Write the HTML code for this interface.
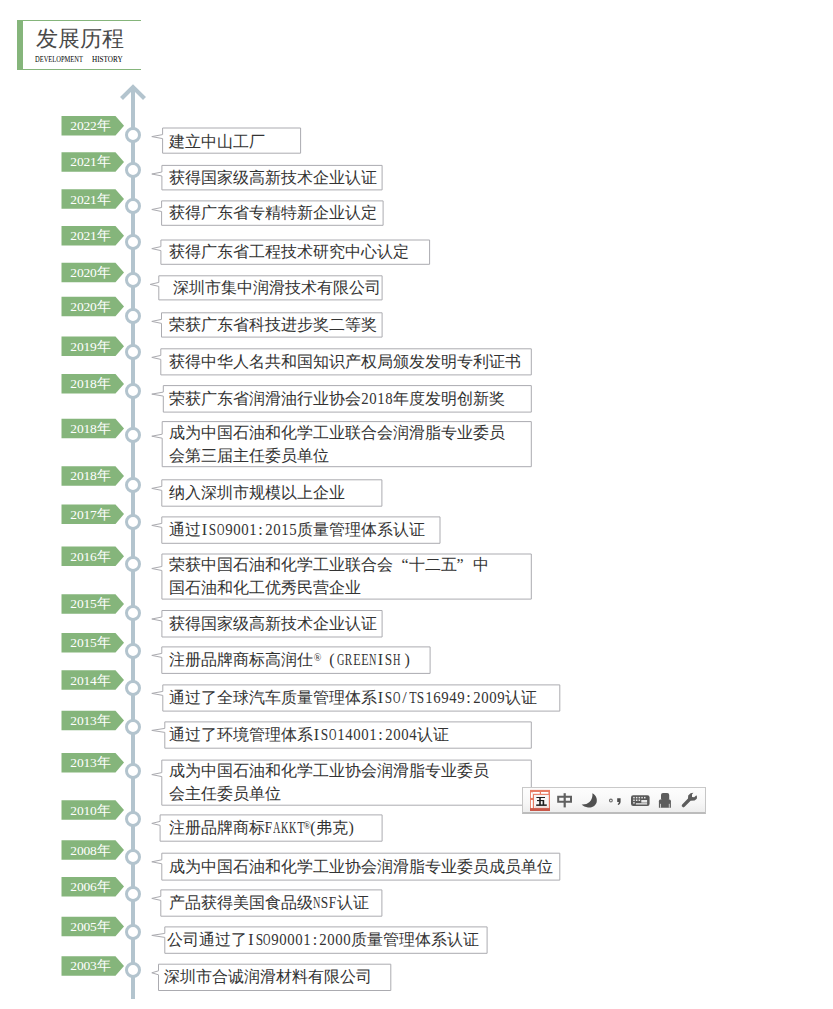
<!DOCTYPE html>
<html><head><meta charset="utf-8"><style>
html,body{margin:0;padding:0;background:#fff;}
body{width:833px;height:1009px;position:relative;overflow:hidden;font-family:"Liberation Serif",serif;}
.abs{position:absolute;}
.hdr{position:absolute;left:16.7px;top:20px;width:124px;height:49.7px;box-sizing:border-box;border-left:6.4px solid #85B57B;border-top:1.5px solid #85B57B;border-bottom:1.5px solid #85B57B;}
.t1{position:absolute;left:36px;top:23.5px;font-size:21.5px;line-height:30px;color:#4a4a4a;white-space:nowrap;}
.t2{position:absolute;font-family:"Liberation Serif",serif;font-size:9px;line-height:10px;color:#000;white-space:pre;transform-origin:0 0;}
.vline{position:absolute;left:131px;top:88px;width:4px;height:911px;background:#B3C4CE;}
.node{position:absolute;width:16px;height:16px;box-sizing:border-box;border:3px solid #B3C4CE;border-radius:50%;background:#fff;}
.lab{position:absolute;left:61.5px;width:62.5px;height:19.5px;}
.lab span{position:absolute;left:8.8px;top:0.3px;font-size:13.5px;letter-spacing:-0.15px;line-height:19.5px;color:#fff;white-space:nowrap;}
.tx{position:absolute;font-size:16px;line-height:22.7px;color:#333;white-space:nowrap;}
.tx i{font-style:normal;display:inline-flex;justify-content:center;vertical-align:baseline;}
.tx i b{font-weight:normal;flex:none;display:inline-block;}
.tx i.q{width:16px;}
.tx i.reg b{font-size:10px;position:relative;top:-4px;}
</style></head><body>

<div class="hdr"></div><div class="t1">发展历程</div>
<div class="t2" style="left:34.8px;top:54px;transform:scaleX(0.72)">DEVELOPMENT</div>
<div class="t2" style="left:91.8px;top:54px;transform:scaleX(0.80)">HISTORY</div>
<div class="vline"></div>
<svg class="abs" style="left:0;top:0" width="833" height="1009"><polyline points="121.5,98.6 133,87.1 144.5,98.6" fill="none" stroke="#B3C4CE" stroke-width="4.2" stroke-linecap="butt" stroke-linejoin="miter"/><path d="M162.6,128.0 H300.6 V153.2 H162.6 V138.6 L151.8,136.6 L162.6,134.6 Z" fill="#fff" stroke="#ABABB0" stroke-width="1" stroke-linejoin="round"/><path d="M61.5,116.0 H115.5 L124,125.8 L115.5,135.5 H61.5 Z" fill="#85B57B"/><path d="M161.9,165.4 H382.1 V189.9 H161.9 V176.0 L151.8,174.0 L161.9,172.0 Z" fill="#fff" stroke="#ABABB0" stroke-width="1" stroke-linejoin="round"/><path d="M61.5,152.2 H115.5 L124,161.9 L115.5,171.7 H61.5 Z" fill="#85B57B"/><path d="M161.6,200.9 H383.1 V225.3 H161.6 V211.5 L151.8,209.5 L161.6,207.5 Z" fill="#fff" stroke="#ABABB0" stroke-width="1" stroke-linejoin="round"/><path d="M61.5,189.3 H115.5 L124,199.1 L115.5,208.8 H61.5 Z" fill="#85B57B"/><path d="M160.9,240.0 H429.6 V264.3 H160.9 V250.6 L151.8,248.6 L160.9,246.6 Z" fill="#fff" stroke="#ABABB0" stroke-width="1" stroke-linejoin="round"/><path d="M61.5,226.0 H115.5 L124,235.8 L115.5,245.5 H61.5 Z" fill="#85B57B"/><path d="M158.8,275.8 H382.1 V299.9 H158.8 V286.4 L150.2,284.4 L158.8,282.4 Z" fill="#fff" stroke="#ABABB0" stroke-width="1" stroke-linejoin="round"/><path d="M61.5,262.7 H115.5 L124,272.4 L115.5,282.2 H61.5 Z" fill="#85B57B"/><path d="M161.5,312.8 H382.1 V337.1 H161.5 V323.4 L151.8,321.4 L161.5,319.4 Z" fill="#fff" stroke="#ABABB0" stroke-width="1" stroke-linejoin="round"/><path d="M61.5,296.8 H115.5 L124,306.6 L115.5,316.3 H61.5 Z" fill="#85B57B"/><path d="M160.8,348.8 H531.3 V374.9 H160.8 V359.4 L151.8,357.4 L160.8,355.4 Z" fill="#fff" stroke="#ABABB0" stroke-width="1" stroke-linejoin="round"/><path d="M61.5,336.5 H115.5 L124,346.2 L115.5,356.0 H61.5 Z" fill="#85B57B"/><path d="M163.3,385.6 H531.3 V412.1 H163.3 V396.1 L151.8,394.1 L163.3,392.1 Z" fill="#fff" stroke="#ABABB0" stroke-width="1" stroke-linejoin="round"/><path d="M61.5,374.1 H115.5 L124,383.9 L115.5,393.6 H61.5 Z" fill="#85B57B"/><path d="M162.2,421.6 H531.3 V466.7 H162.2 V438.2 L151.8,436.2 L162.2,434.2 Z" fill="#fff" stroke="#ABABB0" stroke-width="1" stroke-linejoin="round"/><path d="M61.5,418.8 H115.5 L124,428.6 L115.5,438.3 H61.5 Z" fill="#85B57B"/><path d="M161.8,479.8 H381.9 V506.2 H161.8 V490.4 L151.8,488.4 L161.8,486.4 Z" fill="#fff" stroke="#ABABB0" stroke-width="1" stroke-linejoin="round"/><path d="M61.5,466.2 H115.5 L124,475.9 L115.5,485.7 H61.5 Z" fill="#85B57B"/><path d="M161.8,516.9 H440.0 V543.3 H161.8 V527.4 L151.8,525.4 L161.8,523.4 Z" fill="#fff" stroke="#ABABB0" stroke-width="1" stroke-linejoin="round"/><path d="M61.5,504.4 H115.5 L124,514.1 L115.5,523.9 H61.5 Z" fill="#85B57B"/><path d="M161.9,554.0 H531.3 V599.1 H161.9 V570.5 L151.8,568.5 L161.9,566.5 Z" fill="#fff" stroke="#ABABB0" stroke-width="1" stroke-linejoin="round"/><path d="M61.5,546.5 H115.5 L124,556.2 L115.5,566.0 H61.5 Z" fill="#85B57B"/><path d="M161.9,610.5 H382.1 V637.0 H161.9 V621.0 L151.8,619.0 L161.9,617.0 Z" fill="#fff" stroke="#ABABB0" stroke-width="1" stroke-linejoin="round"/><path d="M61.5,594.2 H115.5 L124,604.0 L115.5,613.7 H61.5 Z" fill="#85B57B"/><path d="M161.8,646.9 H430.1 V673.4 H161.8 V657.4 L151.8,655.4 L161.8,653.4 Z" fill="#fff" stroke="#ABABB0" stroke-width="1" stroke-linejoin="round"/><path d="M61.5,633.0 H115.5 L124,642.8 L115.5,652.5 H61.5 Z" fill="#85B57B"/><path d="M162.8,684.9 H559.8 V711.1 H162.8 V695.4 L151.8,693.4 L162.8,691.4 Z" fill="#fff" stroke="#ABABB0" stroke-width="1" stroke-linejoin="round"/><path d="M61.5,670.3 H115.5 L124,680.0 L115.5,689.8 H61.5 Z" fill="#85B57B"/><path d="M164.8,721.9 H531.3 V748.2 H164.8 V732.4 L151.8,730.4 L164.8,728.4 Z" fill="#fff" stroke="#ABABB0" stroke-width="1" stroke-linejoin="round"/><path d="M61.5,710.7 H115.5 L124,720.5 L115.5,730.2 H61.5 Z" fill="#85B57B"/><path d="M161.8,760.1 H531.3 V805.2 H161.8 V776.6 L151.8,774.6 L161.8,772.6 Z" fill="#fff" stroke="#ABABB0" stroke-width="1" stroke-linejoin="round"/><path d="M61.5,752.9 H115.5 L124,762.6 L115.5,772.4 H61.5 Z" fill="#85B57B"/><path d="M160.1,814.9 H382.1 V841.2 H160.1 V825.4 L151.8,823.4 L160.1,821.4 Z" fill="#fff" stroke="#ABABB0" stroke-width="1" stroke-linejoin="round"/><path d="M61.5,800.3 H115.5 L124,810.0 L115.5,819.8 H61.5 Z" fill="#85B57B"/><path d="M161.8,853.2 H559.8 V880.1 H161.8 V863.8 L151.8,861.8 L161.8,859.8 Z" fill="#fff" stroke="#ABABB0" stroke-width="1" stroke-linejoin="round"/><path d="M61.5,840.3 H115.5 L124,850.0 L115.5,859.8 H61.5 Z" fill="#85B57B"/><path d="M160.8,889.9 H381.9 V916.2 H160.8 V900.4 L151.8,898.4 L160.8,896.4 Z" fill="#fff" stroke="#ABABB0" stroke-width="1" stroke-linejoin="round"/><path d="M61.5,876.9 H115.5 L124,886.6 L115.5,896.4 H61.5 Z" fill="#85B57B"/><path d="M164.8,926.9 H487.1 V953.3 H164.8 V937.4 L151.8,935.4 L164.8,933.4 Z" fill="#fff" stroke="#ABABB0" stroke-width="1" stroke-linejoin="round"/><path d="M61.5,916.8 H115.5 L124,926.5 L115.5,936.3 H61.5 Z" fill="#85B57B"/><path d="M158.5,964.2 H390.8 V990.5 H158.5 V974.8 L151.8,972.8 L158.5,970.8 Z" fill="#fff" stroke="#ABABB0" stroke-width="1" stroke-linejoin="round"/><path d="M61.5,956.2 H115.5 L124,966.0 L115.5,975.7 H61.5 Z" fill="#85B57B"/></svg>
<div class="node" style="left:124.8px;top:127.0px"></div>
<div class="lab" style="top:116.0px"><span>2022年</span></div>
<div class="tx" style="left:168.5px;top:130.7px">建立中山工厂</div>
<div class="node" style="left:124.8px;top:161.8px"></div>
<div class="lab" style="top:152.2px"><span>2021年</span></div>
<div class="tx" style="left:168.5px;top:166.8px">获得国家级高新技术企业认证</div>
<div class="node" style="left:124.8px;top:198.3px"></div>
<div class="lab" style="top:189.3px"><span>2021年</span></div>
<div class="tx" style="left:168.5px;top:202.2px">获得广东省专精特新企业认定</div>
<div class="node" style="left:124.8px;top:234.0px"></div>
<div class="lab" style="top:226.0px"><span>2021年</span></div>
<div class="tx" style="left:168.5px;top:241.3px">获得广东省工程技术研究中心认定</div>
<div class="node" style="left:124.8px;top:272.0px"></div>
<div class="lab" style="top:262.7px"><span>2020年</span></div>
<div class="tx" style="left:172.5px;top:276.9px">深圳市集中润滑技术有限公司</div>
<div class="node" style="left:124.8px;top:307.6px"></div>
<div class="lab" style="top:296.8px"><span>2020年</span></div>
<div class="tx" style="left:168.5px;top:314.0px">荣获广东省科技进步奖二等奖</div>
<div class="node" style="left:124.8px;top:344.3px"></div>
<div class="lab" style="top:336.5px"><span>2019年</span></div>
<div class="tx" style="left:168.5px;top:350.9px">获得中华人名共和国知识产权局颁发发明专利证书</div>
<div class="node" style="left:124.8px;top:382.5px"></div>
<div class="lab" style="top:374.1px"><span>2018年</span></div>
<div class="tx" style="left:168.5px;top:387.9px">荣获广东省润滑油行业协会<i class="h" style="width:8.0px"><b style="transform:scaleX(0.925)">2</b></i><i class="h" style="width:8.0px"><b style="transform:scaleX(0.925)">0</b></i><i class="h" style="width:8.0px"><b style="transform:scaleX(0.925)">1</b></i><i class="h" style="width:8.0px"><b style="transform:scaleX(0.925)">8</b></i>年度发明创新奖</div>
<div class="node" style="left:124.8px;top:426.6px"></div>
<div class="lab" style="top:418.8px"><span>2018年</span></div>
<div class="tx" style="left:168.5px;top:421.9px">成为中国石油和化学工业联合会润滑脂专业委员<br>会第三届主任委员单位</div>
<div class="node" style="left:124.8px;top:476.8px"></div>
<div class="lab" style="top:466.2px"><span>2018年</span></div>
<div class="tx" style="left:168.5px;top:482.1px">纳入深圳市规模以上企业</div>
<div class="node" style="left:124.8px;top:513.7px"></div>
<div class="lab" style="top:504.4px"><span>2017年</span></div>
<div class="tx" style="left:168.5px;top:519.1px">通过<i class="h" style="width:8.0px"><b>I</b></i><i class="h" style="width:8.0px"><b style="transform:scaleX(0.832)">S</b></i><i class="h" style="width:8.0px"><b style="transform:scaleX(0.641)">O</b></i><i class="h" style="width:8.0px"><b style="transform:scaleX(0.925)">9</b></i><i class="h" style="width:8.0px"><b style="transform:scaleX(0.925)">0</b></i><i class="h" style="width:8.0px"><b style="transform:scaleX(0.925)">0</b></i><i class="h" style="width:8.0px"><b style="transform:scaleX(0.925)">1</b></i><i class="h" style="width:8.0px"><b>:</b></i><i class="h" style="width:8.0px"><b style="transform:scaleX(0.925)">2</b></i><i class="h" style="width:8.0px"><b style="transform:scaleX(0.925)">0</b></i><i class="h" style="width:8.0px"><b style="transform:scaleX(0.925)">1</b></i><i class="h" style="width:8.0px"><b style="transform:scaleX(0.925)">5</b></i>质量管理体系认证</div>
<div class="node" style="left:124.8px;top:556.0px"></div>
<div class="lab" style="top:546.5px"><span>2016年</span></div>
<div class="tx" style="left:168.5px;top:554.2px">荣获中国石油和化学工业联合会<i class="q" style="justify-content:flex-end"><b>“</b></i>十二五<i class="q" style="justify-content:flex-start"><b>”</b></i>中<br>国石油和化工优秀民营企业</div>
<div class="node" style="left:124.8px;top:604.8px"></div>
<div class="lab" style="top:594.2px"><span>2015年</span></div>
<div class="tx" style="left:168.5px;top:612.8px">获得国家级高新技术企业认证</div>
<div class="node" style="left:124.8px;top:643.0px"></div>
<div class="lab" style="top:633.0px"><span>2015年</span></div>
<div class="tx" style="left:168.5px;top:649.2px">注册品牌商标高润仕<i class="h reg" style="width:8px;padding-left:2px;box-sizing:border-box"><b>®</b></i><i class="q" style="justify-content:flex-end;padding-right:2px;box-sizing:border-box"><b>(</b></i><i class="h" style="width:8.0px"><b style="transform:scaleX(0.641)">G</b></i><i class="h" style="width:8.0px"><b style="transform:scaleX(0.693)">R</b></i><i class="h" style="width:8.0px"><b style="transform:scaleX(0.757)">E</b></i><i class="h" style="width:8.0px"><b style="transform:scaleX(0.757)">E</b></i><i class="h" style="width:8.0px"><b style="transform:scaleX(0.641)">N</b></i><i class="h" style="width:8.0px"><b>I</b></i><i class="h" style="width:8.0px"><b style="transform:scaleX(0.832)">S</b></i><i class="h" style="width:8.0px"><b style="transform:scaleX(0.641)">H</b></i><i class="q" style="justify-content:flex-start;padding-left:4px;box-sizing:border-box"><b>)</b></i></div>
<div class="node" style="left:124.8px;top:679.7px"></div>
<div class="lab" style="top:670.3px"><span>2014年</span></div>
<div class="tx" style="left:168.5px;top:687.0px">通过了全球汽车质量管理体系<i class="h" style="width:8.0px"><b>I</b></i><i class="h" style="width:8.0px"><b style="transform:scaleX(0.832)">S</b></i><i class="h" style="width:8.0px"><b style="transform:scaleX(0.641)">O</b></i><i class="h" style="width:8.0px"><b>/</b></i><i class="h" style="width:8.0px"><b style="transform:scaleX(0.757)">T</b></i><i class="h" style="width:8.0px"><b style="transform:scaleX(0.832)">S</b></i><i class="h" style="width:8.0px"><b style="transform:scaleX(0.925)">1</b></i><i class="h" style="width:8.0px"><b style="transform:scaleX(0.925)">6</b></i><i class="h" style="width:8.0px"><b style="transform:scaleX(0.925)">9</b></i><i class="h" style="width:8.0px"><b style="transform:scaleX(0.925)">4</b></i><i class="h" style="width:8.0px"><b style="transform:scaleX(0.925)">9</b></i><i class="h" style="width:8.0px"><b>:</b></i><i class="h" style="width:8.0px"><b style="transform:scaleX(0.925)">2</b></i><i class="h" style="width:8.0px"><b style="transform:scaleX(0.925)">0</b></i><i class="h" style="width:8.0px"><b style="transform:scaleX(0.925)">0</b></i><i class="h" style="width:8.0px"><b style="transform:scaleX(0.925)">9</b></i>认证</div>
<div class="node" style="left:124.8px;top:719.3px"></div>
<div class="lab" style="top:710.7px"><span>2013年</span></div>
<div class="tx" style="left:168.5px;top:724.1px">通过了环境管理体系<i class="h" style="width:8.0px"><b>I</b></i><i class="h" style="width:8.0px"><b style="transform:scaleX(0.832)">S</b></i><i class="h" style="width:8.0px"><b style="transform:scaleX(0.641)">O</b></i><i class="h" style="width:8.0px"><b style="transform:scaleX(0.925)">1</b></i><i class="h" style="width:8.0px"><b style="transform:scaleX(0.925)">4</b></i><i class="h" style="width:8.0px"><b style="transform:scaleX(0.925)">0</b></i><i class="h" style="width:8.0px"><b style="transform:scaleX(0.925)">0</b></i><i class="h" style="width:8.0px"><b style="transform:scaleX(0.925)">1</b></i><i class="h" style="width:8.0px"><b>:</b></i><i class="h" style="width:8.0px"><b style="transform:scaleX(0.925)">2</b></i><i class="h" style="width:8.0px"><b style="transform:scaleX(0.925)">0</b></i><i class="h" style="width:8.0px"><b style="transform:scaleX(0.925)">0</b></i><i class="h" style="width:8.0px"><b style="transform:scaleX(0.925)">4</b></i>认证</div>
<div class="node" style="left:124.8px;top:762.5px"></div>
<div class="lab" style="top:752.9px"><span>2013年</span></div>
<div class="tx" style="left:168.5px;top:760.3px">成为中国石油和化学工业协会润滑脂专业委员<br>会主任委员单位</div>
<div class="node" style="left:124.8px;top:811.0px"></div>
<div class="lab" style="top:800.3px"><span>2010年</span></div>
<div class="tx" style="left:168.5px;top:817.1px">注册品牌商标<i class="h" style="width:8.0px"><b style="transform:scaleX(0.832)">F</b></i><i class="h" style="width:8.0px"><b style="transform:scaleX(0.641)">A</b></i><i class="h" style="width:8.0px"><b style="transform:scaleX(0.641)">K</b></i><i class="h" style="width:8.0px"><b style="transform:scaleX(0.641)">K</b></i><i class="h" style="width:8.0px"><b style="transform:scaleX(0.757)">T</b></i><i class="h reg" style="width:5px"><b>®</b></i><i class="h" style="width:6px;justify-content:flex-end"><b>(</b></i>弗克<i class="h" style="width:6px;justify-content:flex-start;padding-left:1px"><b>)</b></i></div>
<div class="node" style="left:124.8px;top:848.9px"></div>
<div class="lab" style="top:840.3px"><span>2008年</span></div>
<div class="tx" style="left:168.5px;top:855.7px">成为中国石油和化学工业协会润滑脂专业委员成员单位</div>
<div class="node" style="left:124.8px;top:885.8px"></div>
<div class="lab" style="top:876.9px"><span>2006年</span></div>
<div class="tx" style="left:168.5px;top:892.1px">产品获得美国食品级<i class="h" style="width:8.0px"><b style="transform:scaleX(0.641)">N</b></i><i class="h" style="width:8.0px"><b style="transform:scaleX(0.832)">S</b></i><i class="h" style="width:8.0px"><b style="transform:scaleX(0.832)">F</b></i>认证</div>
<div class="node" style="left:124.8px;top:924.0px"></div>
<div class="lab" style="top:916.8px"><span>2005年</span></div>
<div class="tx" style="left:167.0px;top:929.1px">公司通过了<i class="h" style="width:8.0px"><b>I</b></i><i class="h" style="width:8.0px"><b style="transform:scaleX(0.832)">S</b></i><i class="h" style="width:8.0px"><b style="transform:scaleX(0.641)">O</b></i><i class="h" style="width:8.0px"><b style="transform:scaleX(0.925)">9</b></i><i class="h" style="width:8.0px"><b style="transform:scaleX(0.925)">0</b></i><i class="h" style="width:8.0px"><b style="transform:scaleX(0.925)">0</b></i><i class="h" style="width:8.0px"><b style="transform:scaleX(0.925)">0</b></i><i class="h" style="width:8.0px"><b style="transform:scaleX(0.925)">1</b></i><i class="h" style="width:8.0px"><b>:</b></i><i class="h" style="width:8.0px"><b style="transform:scaleX(0.925)">2</b></i><i class="h" style="width:8.0px"><b style="transform:scaleX(0.925)">0</b></i><i class="h" style="width:8.0px"><b style="transform:scaleX(0.925)">0</b></i><i class="h" style="width:8.0px"><b style="transform:scaleX(0.925)">0</b></i>质量管理体系认证</div>
<div class="node" style="left:124.8px;top:962.2px"></div>
<div class="lab" style="top:956.2px"><span>2003年</span></div>
<div class="tx" style="left:164.3px;top:966.4px">深圳市合诚润滑材料有限公司</div>
<div class="abs" style="left:522.2px;top:787.2px;width:184px;height:27px;box-sizing:border-box;border:1px solid #c6c6c6;border-top:1.5px solid #c9c9c9;border-bottom:2px solid #bcbcbc;background:linear-gradient(#fdfdfd,#f7f7f7 60%,#ededed);"></div>
<svg class="abs" style="left:522px;top:787px" width="186" height="28" viewBox="0 0 186 28">
 <rect x="8" y="2.9" width="20" height="21.1" fill="#e77b63"/>
 <rect x="8.9" y="5.3" width="1.9" height="5.6" fill="#fff"/><rect x="8.9" y="13" width="1.9" height="8.2" fill="#fff"/>
 <rect x="10.8" y="5" width="7" height="1.8" fill="#fff"/><rect x="19" y="5" width="7.4" height="1.8" fill="#fff"/>
 <rect x="12" y="7.9" width="14.8" height="13.3" fill="#f7f5f5"/>
 <rect x="12.6" y="19.6" width="13.6" height="1" fill="#e8cbc5"/>
 <rect x="8" y="21.2" width="20" height="2.8" fill="#c9584a"/>
 <g fill="#1e1e1e"><rect x="14.4" y="10" width="8.6" height="1"/><rect x="17.2" y="10" width="1.6" height="8"/><rect x="15" y="13" width="7" height="1.1"/><rect x="20.6" y="13" width="1.6" height="5"/><rect x="14.2" y="17.4" width="10.6" height="1.5"/></g>
 <g fill="#606060"><path d="M35.2,8.8 H50 V15.8 H35.2 Z M37.2,10.8 V13.8 H48 V10.8 Z" fill-rule="evenodd"/><rect x="41.6" y="6.2" width="2.2" height="14.2"/></g>
 <path d="M70.4,6.2 C74,8 75.6,12 74.6,15.5 C73.5,19 69.5,21 66,20.4 C63.5,20 61,19 59.6,17.4 C62.5,17.6 65.5,17 67.5,15 C69.8,12.8 70.8,9.5 70.4,6.2 Z" fill="#505050"/>
 <circle cx="88.9" cy="13.5" r="1.4" fill="none" stroke="#6a6a6a" stroke-width="1.1"/>
 <path d="M95.2,11.2 H98.6 V14.8 C98.6,16.4 97.8,17.4 96.2,17.9 L95.6,17 C96.4,16.6 96.8,16 96.9,15 H95.2 Z" fill="#4a4a4a"/>
 <rect x="109" y="8.2" width="18.6" height="10.8" rx="2.2" fill="#595959"/>
 <g fill="#e8e8e8"><rect x="111.2" y="9.9" width="1.5" height="1.5"/><rect x="113.9" y="9.9" width="1.5" height="1.5"/><rect x="116.6" y="9.9" width="1.5" height="1.5"/><rect x="119.3" y="9.9" width="1.5" height="1.5"/><rect x="122" y="9.9" width="1.5" height="1.5"/>
 <rect x="111.2" y="12.5" width="1.5" height="1.5"/><rect x="113.9" y="12.5" width="1.5" height="1.5"/><rect x="116.6" y="12.5" width="1.5" height="1.5"/><rect x="119.3" y="13" width="5.8" height="2.6"/>
 <rect x="111.2" y="15.1" width="1.5" height="1.5"/><rect x="113.9" y="16.2" width="11.2" height="1.3"/></g>
 <rect x="139" y="6" width="8.2" height="7.4" rx="2" fill="#5c5c5c"/>
 <path d="M136.9,20.8 V14.2 C136.9,13.2 137.6,12.6 138.6,12.6 H147.2 C148.2,12.6 148.9,13.2 148.9,14.2 V20.8 Z" fill="#5c5c5c"/>
 <path d="M138.5,16.8 V20.8 M147.3,16.8 V20.8" stroke="#e4e4e4" stroke-width="0.8"/>
 <path d="M160.2,17.6 L166,11.6 L166.2,8.6 L168.6,6.2 L171.4,5.8 L170,7.6 L170,10 L172.2,10.2 L174.4,8.2 L175,9.8 L174.8,11.8 L172.6,13.4 L168.6,13.8 L162.6,19.8 L161.2,20.4 L159.6,19 Z" fill="#5c5c5c"/>
</svg>
</body></html>
